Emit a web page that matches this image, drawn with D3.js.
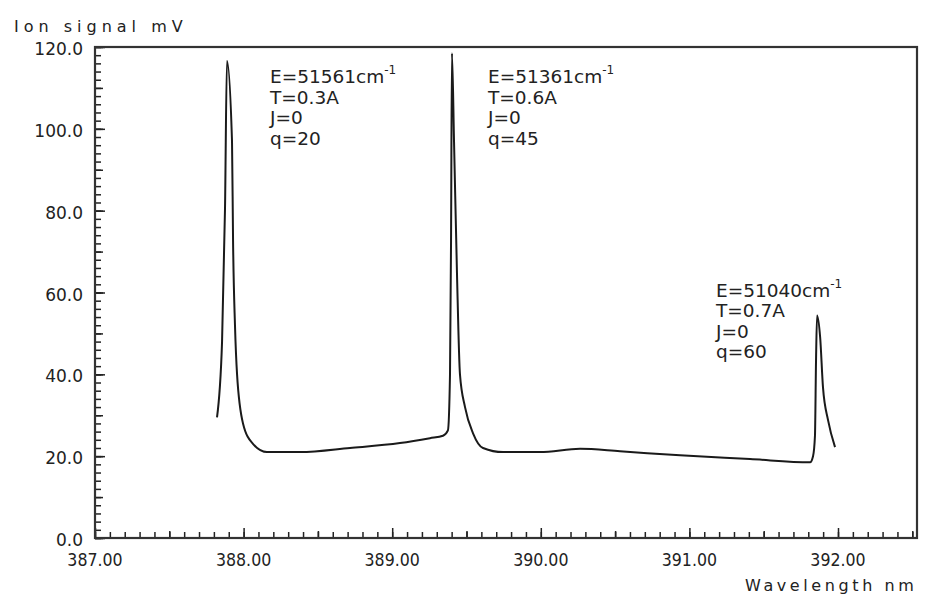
<!DOCTYPE html>
<html><head><meta charset="utf-8">
<script src="https://cdn.jsdelivr.net/npm/d3@7"></script>
<style>
html,body{margin:0;padding:0;background:#fff;}
svg{display:block;}
text{font-family:"DejaVu Sans",sans-serif;fill:#222;}
</style></head>
<body>
<svg id="chart" width="930" height="598"></svg>
<script>
// ---- data (wavelength nm, ion signal mV) ----
const wavelength = [387.821,387.855,387.875,387.888,387.922,387.929,387.942,387.956,387.996,388.063,388.157,388.380,388.716,389.052,389.254,389.342,389.375,389.389,389.396,389.402,389.416,389.436,389.456,389.490,389.544,389.611,389.746,389.995,390.264,390.533,390.937,391.408,391.812,391.832,391.845,391.852,391.859,391.880,391.899,391.933,391.980];
const signal = [29.5,48,80.7,116.6,97,72.7,52,40,28,23,21,21,22,23.2,24.4,25,26.3,40,72.7,118.5,97,64.6,40,32,25.6,22,21,21,21.8,21.2,20.2,19.3,18.5,20,25,43,54.4,49,36.8,28.8,22.2];
const xTickValues = [387,388,389,390,391,392];
const yTickValues = [0,20,40,60,80,100,120];
const annotationWl = [388.178,389.645,391.179];
const annotationVal = [111.2,111.2,59.0];
const annotationLines = [
  ["E=51561cm","T=0.3A","J=0","q=20"],
  ["E=51361cm","T=0.6A","J=0","q=45"],
  ["E=51040cm","T=0.7A","J=0","q=60"]
];
const xLabel = "Wavelength nm";
const yLabel = "Ion signal mV";

const svg = d3.select("#chart");
const L=95, R=917, T=47, B=538;
const x = d3.scaleLinear().domain([387, 387+(R-L)/148.6]).range([L,R]);
const y = d3.scaleLinear().domain([0,120]).range([B,T]);
const ink = "#222";

function styleAxis(g){
  g.select(".domain").remove();
  g.selectAll(".tick line").attr("stroke",ink).attr("stroke-width",1.5);
  g.selectAll(".tick text").remove();
}
// x ticks (inward)
const xMinor = d3.range(0,56).map(i=>387+i/10).filter(v=>v<=x.domain()[1]);
const xHalf = xMinor.filter((v,i)=>i%10===5);
svg.append("g").attr("transform",`translate(0,${B})`)
  .call(d3.axisBottom(x).tickValues(xMinor).tickSize(-6)).call(styleAxis);
svg.append("g").attr("transform",`translate(0,${B})`)
  .call(d3.axisBottom(x).tickValues(xHalf).tickSize(-7)).call(styleAxis);
svg.append("g").attr("transform",`translate(0,${B})`)
  .call(d3.axisBottom(x).tickValues(xTickValues).tickSize(-10)).call(styleAxis);
// y ticks (inward)
const yMinor = d3.range(0,61).map(i=>i*2);
const yTen = d3.range(0,13).map(i=>i*10);
svg.append("g").attr("transform",`translate(${L},0)`)
  .call(d3.axisLeft(y).tickValues(yMinor).tickSize(-6)).call(styleAxis);
svg.append("g").attr("transform",`translate(${L},0)`)
  .call(d3.axisLeft(y).tickValues(yTen).tickSize(-8)).call(styleAxis);
svg.append("g").attr("transform",`translate(${L},0)`)
  .call(d3.axisLeft(y).tickValues(yTickValues).tickSize(-10)).call(styleAxis);

// frame
svg.append("rect").attr("x",L).attr("y",T).attr("width",R-L).attr("height",B-T)
  .attr("fill","none").attr("stroke","#333").attr("stroke-width",2.2);

// tick labels
svg.append("g").selectAll("text").data(xTickValues).join("text")
  .attr("x",d=>x(d)).attr("y",B+28).attr("text-anchor","middle")
  .attr("font-size",17)
  .attr("transform",d=>`translate(${x(d)},0) scale(0.93,1) translate(${-x(d)},0)`)
  .text(d=>d3.format(".2f")(d));
svg.append("g").selectAll("text").data(yTickValues).join("text")
  .attr("x",L-12).attr("y",d=>y(d)+8).attr("text-anchor","end")
  .attr("font-size",17)
  .text(d=>d3.format(".1f")(d));

// axis titles
svg.append("text").attr("x",14).attr("y",32).attr("font-size",16)
  .attr("letter-spacing",5).text(yLabel);
svg.append("text").attr("x",745).attr("y",591).attr("font-size",16)
  .attr("letter-spacing",3.6).text(xLabel);

// curve
const pts = wavelength.map((w,i)=>[w,signal[i]]);
svg.append("path").datum(pts)
  .attr("d",d3.line().x(d=>x(d[0])).y(d=>y(d[1])).curve(d3.curveMonotoneX))
  .attr("fill","none").attr("stroke","#1a1a1a").attr("stroke-width",2);

// annotations (one text block per annotation, lines as tspans)
annotationLines.forEach((lines,k)=>{
  const ax = x(annotationWl[k]);
  const tx = svg.append("text").attr("x",ax).attr("y",y(annotationVal[k]))
    .attr("font-size",18.5);
  lines.forEach((t,i)=>{
    if(i===0){
      tx.append("tspan").attr("x",ax).attr("y",y(annotationVal[k])).text(t);
      tx.append("tspan").attr("dy",-9).attr("font-size",12).text("-1");
    } else {
      tx.append("tspan").attr("x",ax).attr("y",y(annotationVal[k])+i*20.5).text(t);
    }
  });
});
</script>
</body></html>
